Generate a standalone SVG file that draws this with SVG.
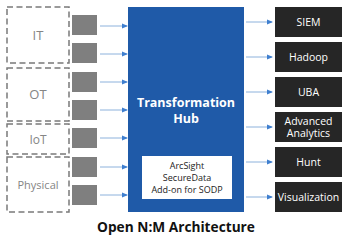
<svg xmlns="http://www.w3.org/2000/svg" width="352" height="237" viewBox="0 0 352 237">
<style>
.grp{fill:none;stroke:#7a7a7a;stroke-width:1.5;stroke-dasharray:6 3.5}
.glab{font-family:"Open Sans","Liberation Sans",sans-serif;fill:#858585;text-anchor:middle}
.sq{fill:#7f7f7f}
.out{fill:#262626}
.otxt{font-family:"Open Sans","Liberation Sans",sans-serif;font-size:10.5px;fill:#ffffff;text-anchor:middle}
.conn line{stroke:#8db2dc;stroke-width:1;marker-end:url(#ah)}
.hub{fill:#1f5aa8}
.htxt{font-family:"Open Sans","Liberation Sans",sans-serif;font-weight:bold;font-size:12.5px;fill:#ffffff;text-anchor:middle}
.wtxt{font-family:"Open Sans","Liberation Sans",sans-serif;font-size:9px;fill:#222;text-anchor:middle}
</style>
<defs>
<marker id="ah" markerWidth="6" markerHeight="6" refX="5" refY="3" orient="auto" markerUnits="userSpaceOnUse">
<path d="M0,0.5 L6,3 L0,5.5 Z" fill="#3f7fcf"/>
</marker>
</defs>
<rect width="352" height="237" fill="#ffffff"/>
<g id="group-it"><rect class="grp" x="7" y="7" width="62" height="56"/><text class="glab" x="38" y="40" font-size="13">IT</text></g>
<g id="group-ot"><rect class="grp" x="7" y="68" width="62" height="53"/><text class="glab" x="38" y="99" font-size="13">OT</text></g>
<g id="group-iot"><rect class="grp" x="7" y="124" width="62" height="30"/><text class="glab" x="38" y="144" font-size="12">IoT</text></g>
<g id="group-physical"><rect class="grp" x="7" y="157" width="62" height="55"/><text class="glab" x="38" y="189" font-size="11">Physical</text></g>
<g id="sources">
<rect class="sq" x="72" y="15" width="25" height="20"/>
<rect class="sq" x="72" y="43" width="25" height="20"/>
<rect class="sq" x="72" y="72" width="25" height="20"/>
<rect class="sq" x="72" y="100" width="25" height="20"/>
<rect class="sq" x="72" y="128" width="25" height="20"/>
<rect class="sq" x="72" y="157" width="25" height="20"/>
<rect class="sq" x="72" y="185" width="25" height="20"/>
</g>
<g id="hub">
<rect class="hub" x="128" y="7" width="116" height="205"/>
<text class="htxt" x="186" y="107">Transformation</text>
<text class="htxt" x="186" y="123">Hub</text>
</g>
<g id="sodp">
<rect x="142" y="156" width="90" height="43" fill="#ffffff"/>
<text class="wtxt" x="187" y="169">ArcSight</text>
<text class="wtxt" x="187" y="181">SecureData</text>
<text class="wtxt" x="187" y="193">Add-on for SODP</text>
</g>
<g id="siem"><rect class="out" x="275" y="7" width="67" height="30"/><text class="otxt" x="308.5" y="26">SIEM</text></g>
<g id="hadoop"><rect class="out" x="275" y="42" width="67" height="30"/><text class="otxt" x="308.5" y="61">Hadoop</text></g>
<g id="uba"><rect class="out" x="275" y="77" width="67" height="30"/><text class="otxt" x="308.5" y="96">UBA</text></g>
<g id="analytics"><rect class="out" x="275" y="112" width="67" height="30"/><text class="otxt" x="308.5" y="124.5" font-size="10">Advanced</text><text class="otxt" x="308.5" y="137" font-size="10">Analytics</text></g>
<g id="hunt"><rect class="out" x="275" y="147" width="67" height="30"/><text class="otxt" x="308.5" y="166">Hunt</text></g>
<g id="visualization"><rect class="out" x="275" y="182" width="67" height="30"/><text class="otxt" x="308.5" y="201" font-size="10">Visualization</text></g>
<g id="connectors" class="conn">
<line x1="100" y1="26" x2="127" y2="26"/>
<line x1="100" y1="54" x2="127" y2="54"/>
<line x1="100" y1="82" x2="127" y2="82"/>
<line x1="100" y1="110" x2="127" y2="110"/>
<line x1="100" y1="138" x2="127" y2="138"/>
<line x1="100" y1="167" x2="127" y2="167"/>
<line x1="100" y1="195" x2="127" y2="195"/>
<line x1="246" y1="22" x2="272" y2="22"/>
<line x1="246" y1="57" x2="272" y2="57"/>
<line x1="246" y1="92" x2="272" y2="92"/>
<line x1="246" y1="127" x2="272" y2="127"/>
<line x1="246" y1="162" x2="272" y2="162"/>
<line x1="246" y1="197" x2="272" y2="197"/>
</g>
<text x="176" y="232" font-family="'Open Sans','Liberation Sans',sans-serif" font-weight="bold" font-size="13.7" fill="#111" text-anchor="middle">Open N:M Architecture</text>
</svg>
